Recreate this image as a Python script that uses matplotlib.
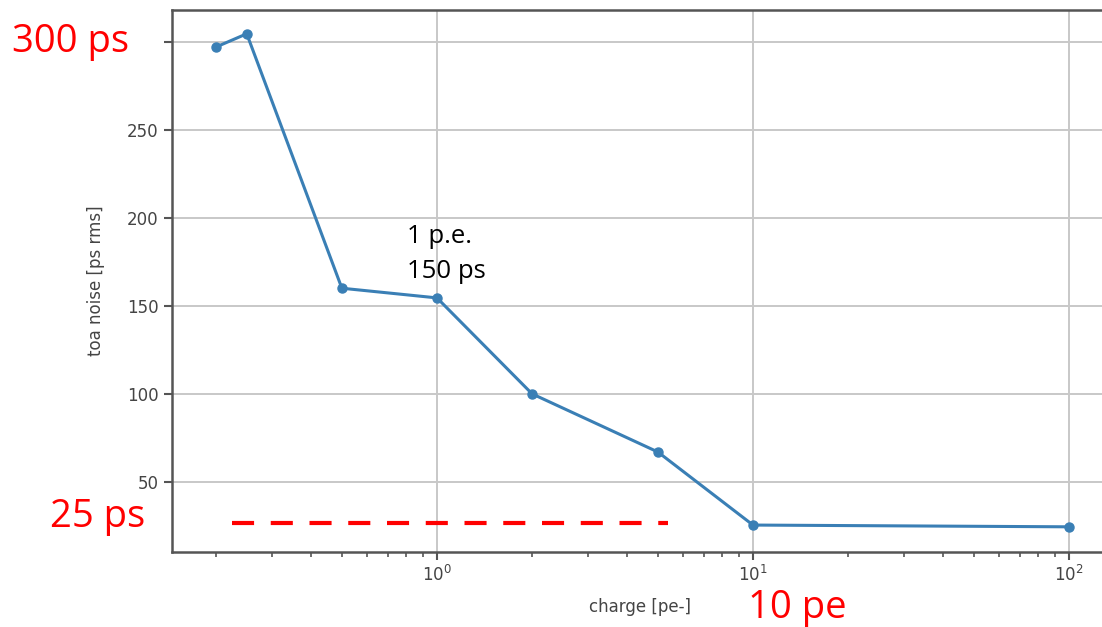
import matplotlib
matplotlib.use("Agg")
import matplotlib.pyplot as plt

# data
charge = [0.2, 0.25, 0.5, 1, 2, 5, 10, 100]
toa_noise = [297, 304.5, 160, 154.5, 100, 67, 25.5, 24.5]
ref_level = 26.7          # red dashed "25 ps" marker
ref_span = [0.224, 5.4]
yticks = [50, 100, 150, 200, 250, 300]
ytick_labels = ['50', '100', '150', '200', '250', '']  # "300" is hidden under the red note

fig = plt.figure(figsize=(11.02, 6.27), dpi=100)
# axes run past the right edge of the figure, as in the cropped original
ax = fig.add_axes([172 / 1102, 1 - 552 / 627, (1135 - 172) / 1102, (552 - 10) / 627])

ax.plot(charge, toa_noise, marker='o', color='#3a7fb5', lw=2.2, ms=6.5)
ax.set_xscale('log')
ax.set_xlim(10 ** -0.8386, 10 ** (-0.8386 + 963 / 316))
ax.set_ylim(10.2, 318)
ax.set_yticks(yticks)
ax.set_yticklabels(ytick_labels)
ax.grid(True, which='major', color='#c8c8c8', lw=1.4)
ax.set_axisbelow(True)

for s in ax.spines.values():
    s.set_color('#555555')
    s.set_linewidth(1.8)
ax.spines['right'].set_visible(False)
ax.tick_params(which='major', length=6, width=1.5, colors='#555555',
               labelcolor='#444444', labelsize=12)
ax.tick_params(which='minor', length=3.5, width=1.2, colors='#555555')

ax.set_xlabel('charge [pe-]', fontsize=12, color='#444444')
ax.xaxis.set_label_coords((640 - 172) / 963, -(598 - 552) / 542)
ax.set_ylabel('toa noise [ps rms]', fontsize=12, color='#444444', labelpad=16)

# red annotations
ax.hlines(ref_level, ref_span[0], ref_span[1], colors='#ff0000', lw=3,
          linestyles=(0, (5.3, 4)))
fnt = ['Open Sans', 'DejaVu Sans']
fig.text(12 / 1102, 1 - 42 / 627, '300 ps', color='#ff0000', fontsize=27.5,
         family=fnt, va='center', ha='left')
fig.text(50 / 1102, 1 - 517 / 627, '25 ps', color='#ff0000', fontsize=27.5,
         family=fnt, va='center', ha='left')
fig.text(748 / 1102, 1 - 608 / 627, '10 pe', color='#ff0000', fontsize=27.5,
         family=fnt, va='center', ha='left')
fig.text(407 / 1102, 1 - 254 / 627, '1 p.e.\n150 ps', color='black', fontsize=18.5,
         family=fnt, va='center', ha='left', linespacing=1.5)

fig.savefig('out.png', dpi=100)
